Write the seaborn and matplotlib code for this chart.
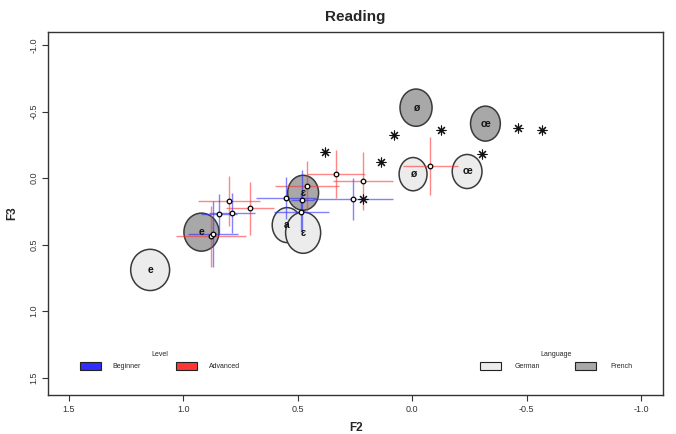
import numpy as np
import pandas as pd
import matplotlib
matplotlib.use("Agg")
import matplotlib.pyplot as plt
import seaborn as sns
from matplotlib.patches import Ellipse, Patch

# ---------------- data ----------------
# vowel ellipses (mean F2/F3 per language)
vowel_labels = ["e", "e", "ɛ", "a", "ɛ", "ø", "ø", "œ", "œ"]
vowel_lang = ["German", "French", "French", "German", "German", "French", "German", "French", "German"]
vowel_f2 = [1.144, 0.92, 0.476, 0.546, 0.476, -0.017, -0.004, -0.32, -0.24]
vowel_f3 = [0.69, 0.406, 0.11, 0.353, 0.41, -0.53, -0.03, -0.41, -0.05]
vowel_w = [0.17, 0.153, 0.135, 0.13, 0.153, 0.14, 0.122, 0.13, 0.13]
vowel_h = [0.31, 0.286, 0.263, 0.263, 0.31, 0.28, 0.25, 0.263, 0.256]

# learner means with error crosses
pt_level = ["Advanced", "Advanced", "Beginner", "Beginner", "Advanced", "Beginner",
            "Advanced", "Advanced", "Beginner", "Beginner", "Beginner", "Beginner",
            "Advanced", "Advanced"]
pt_f2 = [0.799, 0.707, 0.786, 0.843, 0.878, 0.87, 0.332, 0.459, 0.55, 0.48, 0.485, 0.258, 0.214, -0.079]
pt_f3 = [0.173, 0.226, 0.263, 0.27, 0.436, 0.42, -0.03, 0.06, 0.15, 0.165, 0.256, 0.158, 0.023, -0.09]
pt_f2_err = [0.135, 0.105, 0.1, 0.08, 0.153, 0.11, 0.127, 0.14, 0.13, 0.05, 0.12, 0.175, 0.13, 0.12]
pt_f3_err = [0.19, 0.2, 0.15, 0.15, 0.23, 0.25, 0.18, 0.19, 0.16, 0.23, 0.15, 0.16, 0.22, 0.22]

# asterisks
star_f2 = [0.38, 0.135, 0.079, -0.127, -0.306, -0.463, -0.568, 0.214]
star_f3 = [-0.195, -0.12, -0.323, -0.361, -0.18, -0.376, -0.361, 0.158]

xticks = [1.5, 1.0, 0.5, 0.0, -0.5, -1.0]
yticks = [-1.0, -0.5, 0.0, 0.5, 1.0, 1.5]

# ---------------- styling ----------------
sns.set_style("white")
plt.rcParams["font.family"] = ["Liberation Sans", "DejaVu Sans"]

lang_fill = {"German": "#ececec", "French": "#a8a8a8"}
level_col = {"Beginner": "#2f2fff", "Advanced": "#ff3636"}

fig = plt.figure(figsize=(6.76, 4.34), dpi=100)
ax = fig.add_axes([0.071, 0.09, 0.91, 0.836])

# ellipses: German first, French on top
vowels = pd.DataFrame({"label": vowel_labels, "lang": vowel_lang, "f2": vowel_f2,
                       "f3": vowel_f3, "w": vowel_w, "h": vowel_h})
vowels["order"] = vowels["lang"].map({"German": 0, "French": 1})
for _, r in vowels.sort_values("order", kind="stable").iterrows():
    ax.add_patch(Ellipse((r.f2, r.f3), r.w, r.h, facecolor=lang_fill[r.lang],
                         edgecolor="#3a3a3a", linewidth=1.1, zorder=2))
    ax.text(r.f2, r.f3, r.label, ha="center", va="center", fontsize=7.5,
            fontweight="bold", color="#111111", zorder=6)

# error crosses
pts = pd.DataFrame({"level": pt_level, "f2": pt_f2, "f3": pt_f3,
                    "xerr": pt_f2_err, "yerr": pt_f3_err})
for _, r in pts.iterrows():
    c = level_col[r.level]
    ax.hlines(r.f3, r.f2 - r.xerr, r.f2 + r.xerr, color=c, alpha=0.6, lw=1.0, zorder=3)
    ax.vlines(r.f2, r.f3 - r.yerr, r.f3 + r.yerr, color=c, alpha=0.6, lw=1.0, zorder=3)

sns.scatterplot(data=pts, x="f2", y="f3", ax=ax, marker="o", s=11, color="white",
                edgecolor="black", linewidth=0.9, zorder=5, legend=False)

stars = pd.DataFrame({"f2": star_f2, "f3": star_f3})
sns.scatterplot(data=stars, x="f2", y="f3", ax=ax, marker=(8, 2, 0), s=42,
                color="#111111", linewidth=0.8, zorder=5, legend=False)

# axes
ax.set_xlim(1.59, -1.096)
ax.set_ylim(1.63, -1.098)
ax.set_xticks(xticks)
ax.set_yticks(yticks)
ax.set_xticklabels([f"{t:.1f}" for t in xticks], fontsize=6.5, color="#333333")
ax.set_yticklabels([f"{t:.1f}" for t in yticks], fontsize=6.5, rotation=90,
                   va="center", color="#333333")
ax.tick_params(axis="both", direction="out", length=4, width=0.8, color="#333333",
               bottom=True, left=True, pad=3)
for s in ax.spines.values():
    s.set_color("#333333")
    s.set_linewidth(1.0)
ax.set_xlabel("F2", fontsize=8.5, fontweight="bold", labelpad=6)
ax.set_ylabel("F3", fontsize=8.5, fontweight="bold", labelpad=8)
ax.set_title("Reading", fontsize=11, fontweight="bold", pad=8)

# legends
lev_handles = [Patch(facecolor=level_col[k], edgecolor="#222222", lw=0.8, label=k)
               for k in ["Beginner", "Advanced"]]
leg1 = ax.legend(handles=lev_handles, title="Level", ncol=2, frameon=False,
                 fontsize=5, title_fontsize=5, loc="center",
                 bbox_to_anchor=(0.182, 0.094), handlelength=3.0, handleheight=1.4,
                 handletextpad=1.7, columnspacing=5.0)
ax.add_artist(leg1)
lang_handles = [Patch(facecolor=lang_fill[k], edgecolor="#222222", lw=0.8, label=k)
                for k in ["German", "French"]]
ax.legend(handles=lang_handles, title="Language", ncol=2, frameon=False,
          fontsize=5, title_fontsize=5, loc="center",
          bbox_to_anchor=(0.826, 0.094), handlelength=3.0, handleheight=1.4,
          handletextpad=2.0, columnspacing=5.0)

fig.savefig("out.png", dpi=100)
